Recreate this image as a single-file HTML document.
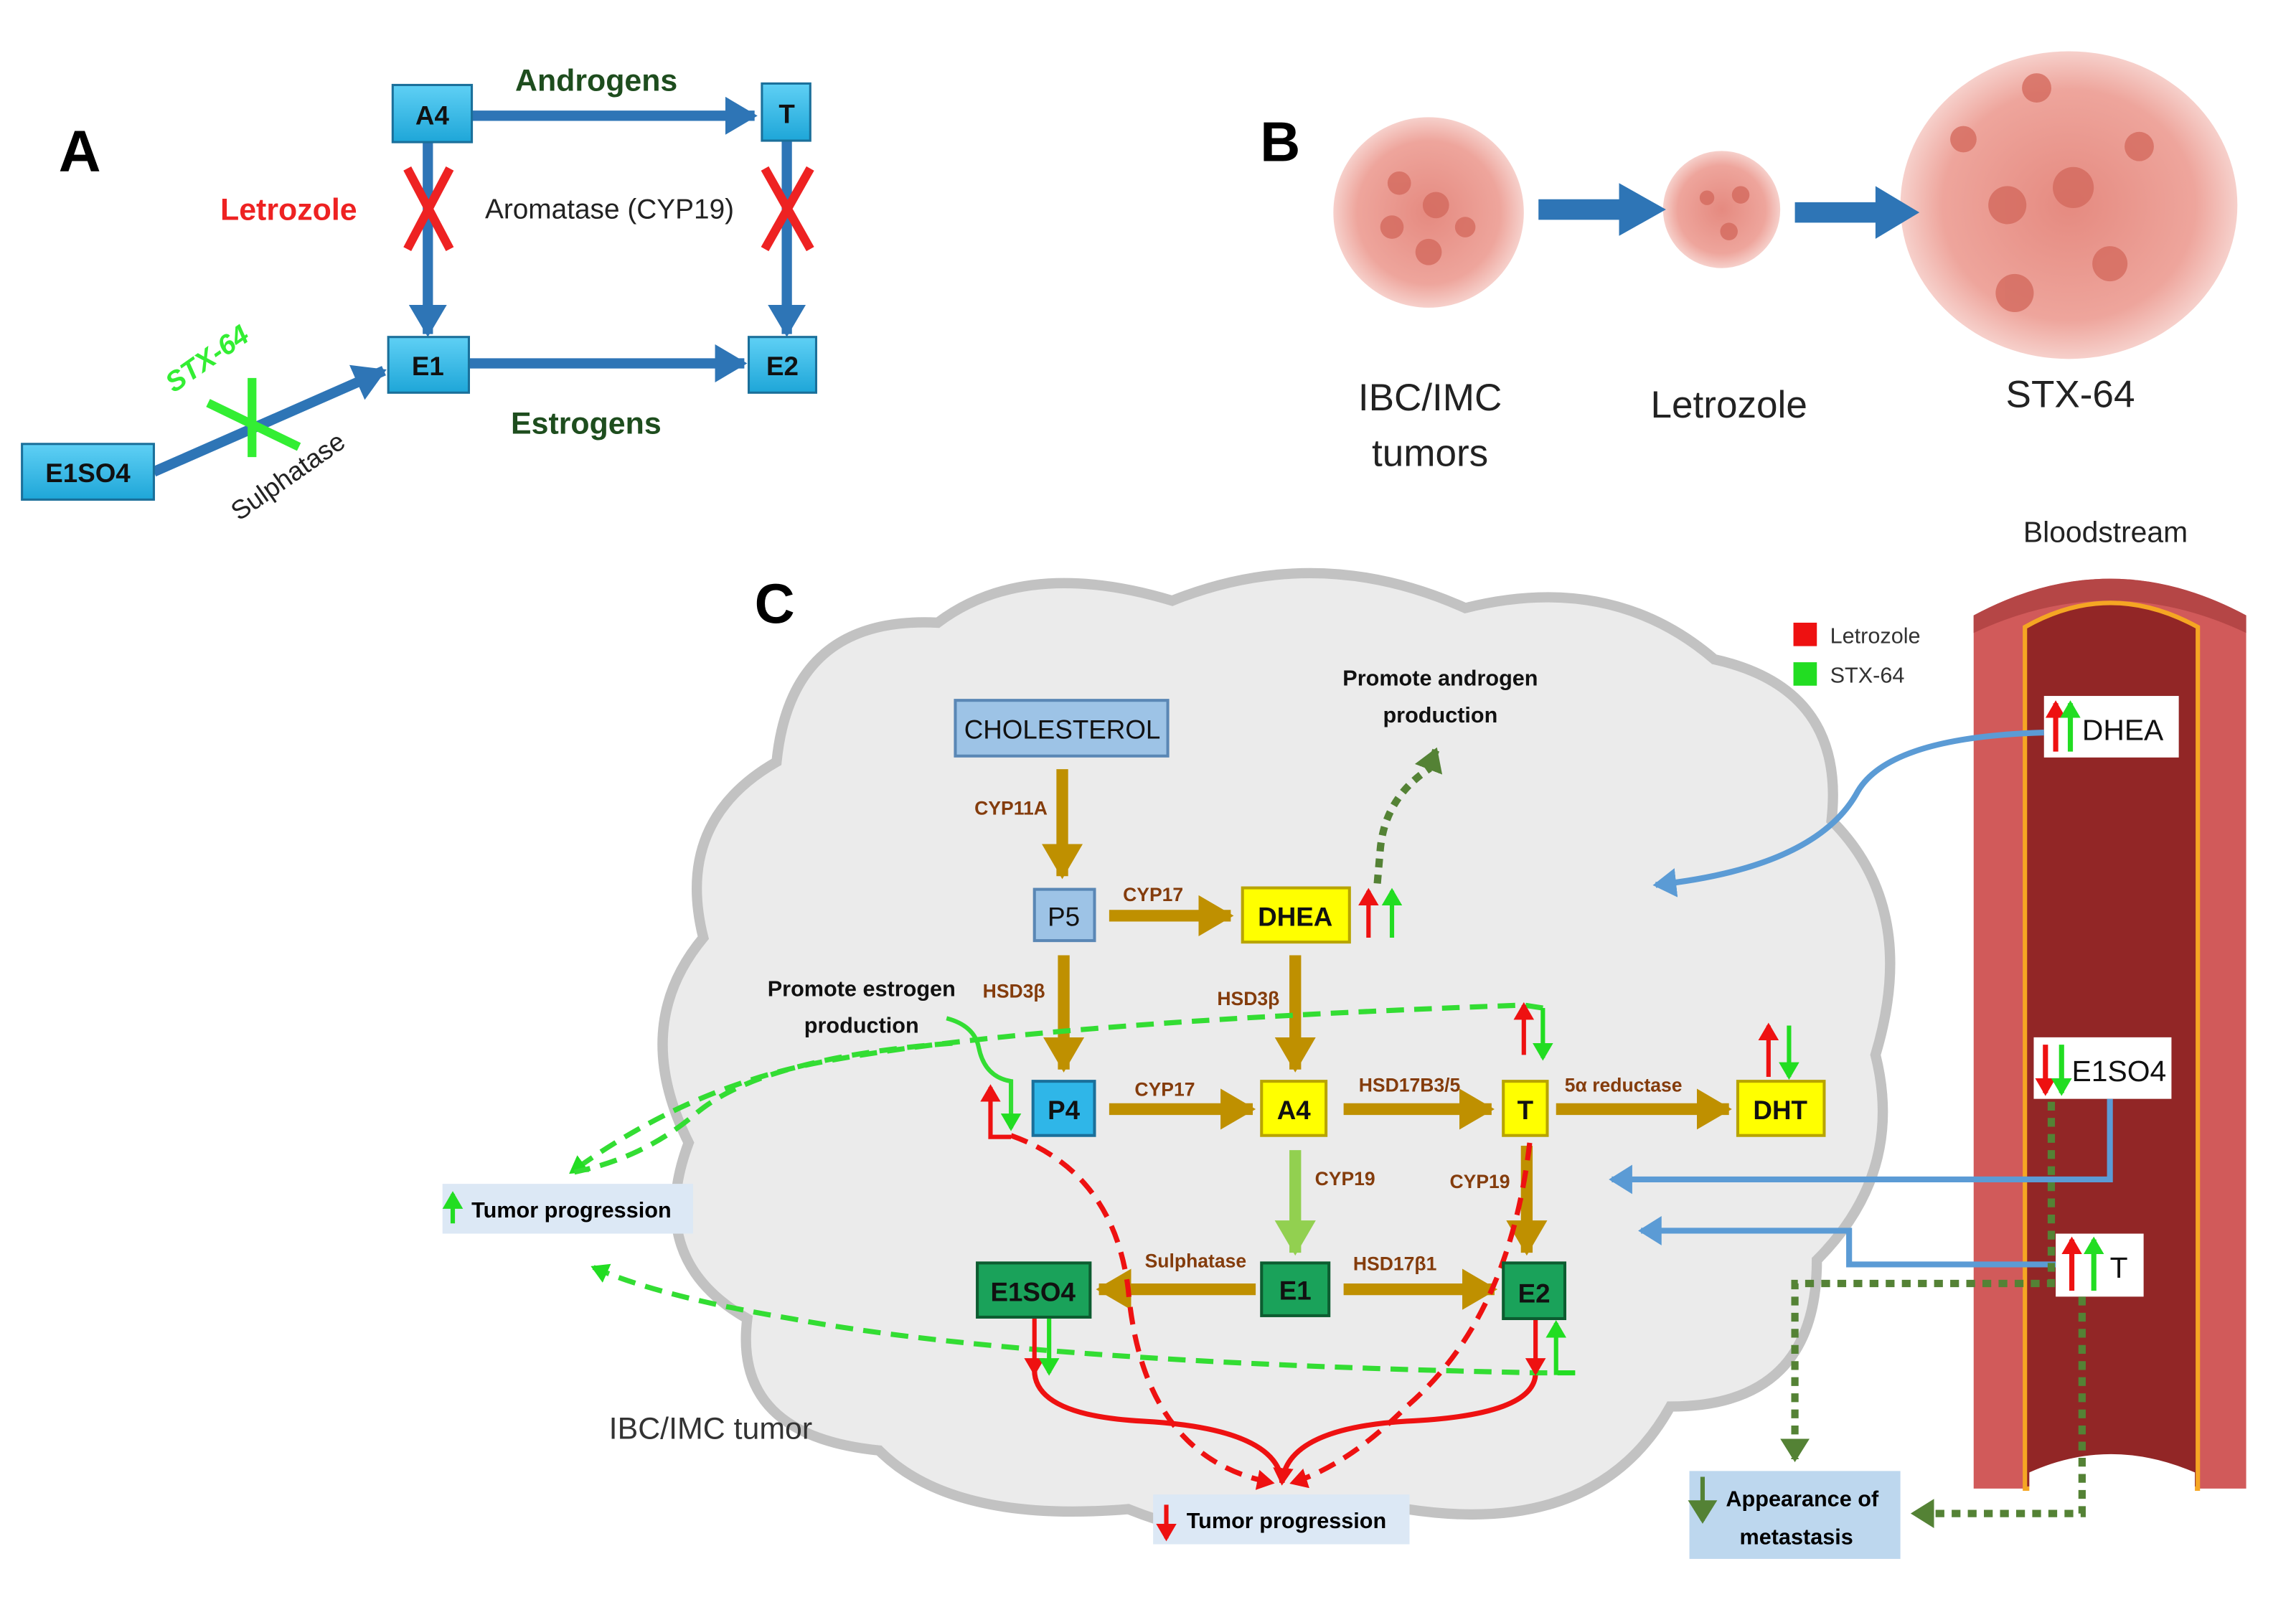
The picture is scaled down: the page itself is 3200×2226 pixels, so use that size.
<!DOCTYPE html>
<html><head><meta charset="utf-8"><style>html,body{margin:0;padding:0;background:#fff}svg{display:block}text{font-family:"Liberation Sans",sans-serif}</style></head><body>
<svg width="3200" height="2226" viewBox="0 0 1567 1090" preserveAspectRatio="none" xmlns="http://www.w3.org/2000/svg">
<defs>
<marker id="mb" markerUnits="userSpaceOnUse" markerWidth="26" markerHeight="26" refX="20" refY="13" orient="auto"><path d="M0,0 L22,13 L0,26 Z" fill="#2e75b6"/></marker>
<marker id="mg" markerUnits="userSpaceOnUse" markerWidth="26" markerHeight="28" refX="22" refY="14" orient="auto"><path d="M0,0 L24,14 L0,28 Z" fill="#bf9000"/></marker>
<marker id="mlg" markerUnits="userSpaceOnUse" markerWidth="26" markerHeight="28" refX="22" refY="14" orient="auto"><path d="M0,0 L24,14 L0,28 Z" fill="#92d050"/></marker>
<marker id="mbl" markerUnits="userSpaceOnUse" markerWidth="20" markerHeight="20" refX="14" refY="10" orient="auto"><path d="M0,0 L16,10 L0,20 Z" fill="#5b9bd5"/></marker>
<marker id="mdg" markerUnits="userSpaceOnUse" markerWidth="20" markerHeight="20" refX="14" refY="10" orient="auto"><path d="M0,0 L16,10 L0,20 Z" fill="#548235"/></marker>
<marker id="mgr" markerUnits="userSpaceOnUse" markerWidth="14" markerHeight="14" refX="10" refY="7" orient="auto"><path d="M0,0 L12,7 L0,14 Z" fill="#22dd22"/></marker>
<marker id="mr" markerUnits="userSpaceOnUse" markerWidth="14" markerHeight="14" refX="10" refY="7" orient="auto"><path d="M0,0 L12,7 L0,14 Z" fill="#ee1111"/></marker>
<linearGradient id="gb" x1="0" y1="0" x2="0" y2="1"><stop offset="0" stop-color="#5fd0f5"/><stop offset="1" stop-color="#1ea6d8"/></linearGradient>
<radialGradient id="tum"><stop offset="0" stop-color="#e58a80"/><stop offset="0.75" stop-color="#eea59c"/><stop offset="1" stop-color="#f6d0cb"/></radialGradient>
</defs>

<!-- PANEL A -->
<text x="40" y="117" font-size="40" font-weight="bold">A</text>
<g stroke="#2e75b6" stroke-width="7" fill="none">
<line x1="322" y1="79" x2="515" y2="79" marker-end="url(#mb)"/>
<line x1="292" y1="97" x2="292" y2="228" marker-end="url(#mb)"/>
<line x1="537" y1="96" x2="537" y2="228" marker-end="url(#mb)"/>
<line x1="320" y1="248" x2="508" y2="248" marker-end="url(#mb)"/>
<line x1="105" y1="322" x2="262" y2="253" marker-end="url(#mb)"/>
</g>
<g stroke="#1a6f9a" stroke-width="1.5" fill="url(#gb)">
<rect x="268" y="58" width="54" height="39"/><rect x="520" y="57" width="33" height="39"/>
<rect x="265" y="230" width="55" height="38"/><rect x="511" y="230" width="46" height="38"/>
<rect x="15" y="303" width="90" height="38"/>
</g>
<g font-size="18" font-weight="bold" text-anchor="middle" fill="#111">
<text x="295" y="85">A4</text><text x="537" y="84">T</text><text x="292" y="256">E1</text><text x="534" y="256">E2</text><text x="60" y="329">E1SO4</text>
</g>
<g stroke="#ee2222" stroke-width="6"><line x1="278" y1="115" x2="307" y2="170"/><line x1="307" y1="115" x2="278" y2="170"/><line x1="522" y1="115" x2="553" y2="170"/><line x1="553" y1="115" x2="522" y2="170"/></g>
<g stroke="#33ee33" stroke-width="6"><line x1="172" y1="258" x2="172" y2="312"/><line x1="142" y1="275" x2="204" y2="305"/></g>
<text x="407" y="62" font-size="21" font-weight="bold" fill="#1e4d1e" text-anchor="middle">Androgens</text>
<text x="400" y="296" font-size="21" font-weight="bold" fill="#1e4d1e" text-anchor="middle">Estrogens</text>
<text x="197" y="150" font-size="21" font-weight="bold" fill="#ee2222" text-anchor="middle">Letrozole</text>
<text x="416" y="149" font-size="19" fill="#222" text-anchor="middle">Aromatase (CYP19)</text>
<text x="145" y="250" font-size="19" font-weight="bold" font-style="italic" fill="#33ee33" text-anchor="middle" transform="rotate(-35 145 250)">STX-64</text>
<text x="200" y="330" font-size="18" fill="#222" text-anchor="middle" transform="rotate(-35 200 330)">Sulphatase</text>

<!-- PANEL B -->
<text x="860" y="110" font-size="38" font-weight="bold">B</text>
<g fill="url(#tum)">
<ellipse cx="975" cy="145" rx="65" ry="65"/>
<ellipse cx="1175" cy="143" rx="40" ry="40"/>
<ellipse cx="1412" cy="140" rx="115" ry="105"/>
</g>
<g fill="#d46a5e" opacity="0.8">
<circle cx="955" cy="125" r="8"/><circle cx="980" cy="140" r="9"/><circle cx="1000" cy="155" r="7"/><circle cx="950" cy="155" r="8"/><circle cx="975" cy="172" r="9"/>
<circle cx="1165" cy="135" r="5"/><circle cx="1188" cy="133" r="6"/><circle cx="1180" cy="158" r="6"/>
<circle cx="1390" cy="60" r="10"/><circle cx="1370" cy="140" r="13"/><circle cx="1415" cy="128" r="14"/><circle cx="1375" cy="200" r="13"/><circle cx="1440" cy="180" r="12"/><circle cx="1460" cy="100" r="10"/><circle cx="1340" cy="95" r="9"/>
</g>
<g stroke="#2e75b6" stroke-width="14"><line x1="1050" y1="143" x2="1110" y2="143"/><line x1="1225" y1="145" x2="1285" y2="145"/></g>
<g fill="#2e75b6"><path d="M1105,125 L1137,143 L1105,161Z"/><path d="M1280,127 L1310,145 L1280,163Z"/></g>
<g font-size="26" fill="#222" text-anchor="middle">
<text x="976" y="280">IBC/IMC</text><text x="976" y="318">tumors</text><text x="1180" y="285">Letrozole</text><text x="1413" y="278">STX-64</text>
</g>

<!-- PANEL C cloud -->
<path d="M530,520 Q540,420 640,425 Q700,380 800,410 Q900,370 1000,415 Q1100,390 1170,450 Q1260,470 1250,560 Q1310,620 1280,720 Q1300,800 1240,860 Q1240,960 1140,960 Q1090,1050 960,1030 Q870,1070 770,1030 Q650,1040 600,990 Q500,980 510,900 Q440,860 470,780 Q430,700 480,640 Q460,560 530,520 Z" fill="#ebebeb" stroke="#c2c2c2" stroke-width="7"/>
<text x="515" y="425" font-size="38" font-weight="bold">C</text>
<text x="485" y="982" font-size="21" fill="#333" text-anchor="middle">IBC/IMC tumor</text>

<!-- gold arrows -->
<g stroke="#bf9000" stroke-width="8" fill="none">
<line x1="725" y1="525" x2="725" y2="598" marker-end="url(#mg)"/>
<line x1="757" y1="625" x2="840" y2="625" marker-end="url(#mg)"/>
<line x1="726" y1="652" x2="726" y2="730" marker-end="url(#mg)"/>
<line x1="884" y1="652" x2="884" y2="730" marker-end="url(#mg)"/>
<line x1="757" y1="757" x2="855" y2="757" marker-end="url(#mg)"/>
<line x1="917" y1="757" x2="1018" y2="757" marker-end="url(#mg)"/>
<line x1="1062" y1="757" x2="1180" y2="757" marker-end="url(#mg)"/>
<line x1="1042" y1="782" x2="1042" y2="855" marker-end="url(#mg)"/>
<line x1="857" y1="880" x2="750" y2="880" marker-end="url(#mg)"/>
<line x1="917" y1="880" x2="1020" y2="880" marker-end="url(#mg)"/>
</g>
<line x1="884" y1="785" x2="884" y2="855" stroke="#92d050" stroke-width="8" marker-end="url(#mlg)"/>
<g font-size="13" font-weight="bold" fill="#843c0c" text-anchor="middle">
<text x="690" y="556">CYP11A</text><text x="787" y="615">CYP17</text><text x="692" y="681">HSD3β</text><text x="852" y="686">HSD3β</text>
<text x="795" y="748">CYP17</text><text x="962" y="745">HSD17B3/5</text><text x="1108" y="745">5α reductase</text>
<text x="918" y="809">CYP19</text><text x="1010" y="811">CYP19</text><text x="816" y="865">Sulphatase</text><text x="952" y="867">HSD17β1</text>
</g>

<!-- dashed / red paths -->
<g fill="none" stroke="#ee1111" stroke-width="3.5" stroke-dasharray="12,7">
<path d="M690,775 Q760,800 770,880 Q780,995 868,1012" marker-end="url(#mr)"/>
<path d="M1044,780 Q1030,900 960,960 Q920,1000 882,1012" marker-end="url(#mr)"/>
</g>
<g fill="none" stroke="#ee1111" stroke-width="3.5">
<path d="M706,935 Q706,966 780,970 Q872,975 875,1012"/>
<path d="M1048,937 Q1048,966 960,970 Q878,975 875,1012" marker-end="url(#mr)"/>
</g>
<g fill="none" stroke="#33dd33" stroke-width="3.5" stroke-dasharray="12,7">
<path d="M1053,688 L1040,686 Q700,698 560,725 Q470,742 390,800" marker-end="url(#mgr)"/>
<path d="M650,712 Q520,722 475,760 Q440,790 392,800"/>
<path d="M1075,937 L1050,937 Q700,930 540,900 Q450,885 405,865" marker-end="url(#mgr)"/>
</g>
<path d="M646,695 Q665,700 668,715 Q672,735 690,738 L690,770" fill="none" stroke="#33dd33" stroke-width="3" marker-end="url(#mgr)"/>
<path d="M940,603 L942,580 Q945,545 975,525 L980,512" fill="none" stroke="#548235" stroke-width="5" stroke-dasharray="6,5" marker-end="url(#mdg)"/>

<!-- small arrows -->
<g stroke-width="3" fill="none">
<line x1="934" y1="640" x2="934" y2="608" stroke="#ee1111" marker-end="url(#mr)"/>
<line x1="950" y1="640" x2="950" y2="608" stroke="#22dd22" marker-end="url(#mgr)"/>
<line x1="1207" y1="735" x2="1207" y2="700" stroke="#ee1111" marker-end="url(#mr)"/>
<line x1="1221" y1="700" x2="1221" y2="735" stroke="#22dd22" marker-end="url(#mgr)"/>
<line x1="1040" y1="720" x2="1040" y2="686" stroke="#ee1111" marker-end="url(#mr)"/>
<line x1="1053" y1="688" x2="1053" y2="722" stroke="#22dd22" marker-end="url(#mgr)"/>
<path d="M690,776 L676,776 L676,742" stroke="#ee1111" marker-end="url(#mr)"/>
<line x1="706" y1="900" x2="706" y2="937" stroke="#ee1111" marker-end="url(#mr)"/>
<line x1="716" y1="900" x2="716" y2="937" stroke="#22dd22" marker-end="url(#mgr)"/>
<line x1="1048" y1="900" x2="1048" y2="937" stroke="#ee1111" marker-end="url(#mr)"/>
<path d="M1075,937 L1062,937 L1062,903" stroke="#22dd22" marker-end="url(#mgr)"/>
</g>

<!-- boxes C -->
<rect x="652" y="478" width="145" height="38" fill="#9dc3e6" stroke="#5a87b5" stroke-width="2"/>
<rect x="706" y="607" width="41" height="35" fill="#9dc3e6" stroke="#5a87b5" stroke-width="2"/>
<rect x="705" y="738" width="42" height="37" fill="#2fb6e8" stroke="#1a6f9a" stroke-width="2"/>
<g fill="#ffff00" stroke="#b8a400" stroke-width="2">
<rect x="848" y="606" width="73" height="37"/><rect x="861" y="738" width="44" height="37"/><rect x="1026" y="738" width="30" height="37"/><rect x="1186" y="738" width="59" height="37"/>
</g>
<g fill="#1aa25a" stroke="#0c5c30" stroke-width="2">
<rect x="667" y="862" width="77" height="37"/><rect x="861" y="862" width="46" height="36"/><rect x="1026" y="862" width="42" height="38"/>
</g>
<g font-size="18" text-anchor="middle" fill="#111">
<text x="725" y="504">CHOLESTEROL</text><text x="726" y="632">P5</text>
</g>
<g font-size="18" font-weight="bold" text-anchor="middle" fill="#111">
<text x="726" y="764">P4</text><text x="884" y="632">DHEA</text><text x="883" y="764">A4</text><text x="1041" y="764">T</text><text x="1215" y="764">DHT</text>
<text x="705" y="888">E1SO4</text><text x="884" y="887">E1</text><text x="1047" y="889">E2</text>
</g>
<g font-size="15" font-weight="bold" text-anchor="middle" fill="#111">
<text x="588" y="680">Promote estrogen</text><text x="588" y="705">production</text>
<text x="983" y="468">Promote androgen</text><text x="983" y="493">production</text>
</g>
<rect x="302" y="808" width="171" height="34" fill="#dce8f5"/>
<line x1="309" y1="835" x2="309" y2="815" stroke="#22dd22" stroke-width="3" marker-end="url(#mgr)"/>
<text x="390" y="831" font-size="15" font-weight="bold" text-anchor="middle">Tumor progression</text>
<rect x="787" y="1020" width="175" height="34" fill="#dce8f5"/>
<line x1="796" y1="1027" x2="796" y2="1050" stroke="#ee1111" stroke-width="3" marker-end="url(#mr)"/>
<text x="878" y="1043" font-size="15" font-weight="bold" text-anchor="middle">Tumor progression</text>

<!-- bloodstream -->
<text x="1437" y="370" font-size="20" fill="#222" text-anchor="middle">Bloodstream</text>
<rect x="1224" y="425" width="16" height="16" fill="#ee1111"/><text x="1249" y="439" font-size="15" fill="#333">Letrozole</text>
<rect x="1224" y="452" width="16" height="16" fill="#22dd22"/><text x="1249" y="466" font-size="15" fill="#333">STX-64</text>
<path d="M1347,420 Q1440,370 1533,420 L1533,1016 L1347,1016 Z" fill="#d15a5a"/>
<path d="M1347,420 Q1440,370 1533,420 L1533,432 Q1440,388 1347,432 Z" fill="#b54646"/>
<path d="M1382,428 Q1440,395 1500,428 L1500,1016 L1382,1016 Z" fill="#922626" stroke="#f5a623" stroke-width="3"/>
<path d="M1385,1018 L1385,1005 Q1440,980 1498,1005 L1498,1018 Z" fill="#fff"/>
<g fill="#fff"><rect x="1395" y="475" width="92" height="42"/><rect x="1388" y="708" width="94" height="42"/><rect x="1403" y="842" width="60" height="43"/></g>
<g font-size="20" fill="#111"><text x="1421" y="505">DHEA</text><text x="1414" y="738">E1SO4</text><text x="1440" y="872">T</text></g>
<g stroke-width="3.5" fill="none">
<line x1="1403" y1="513" x2="1403" y2="480" stroke="#ee1111" marker-end="url(#mr)"/>
<line x1="1413" y1="513" x2="1413" y2="480" stroke="#22dd22" marker-end="url(#mgr)"/>
<line x1="1396" y1="713" x2="1396" y2="746" stroke="#ee1111" marker-end="url(#mr)"/>
<line x1="1407" y1="713" x2="1407" y2="746" stroke="#22dd22" marker-end="url(#mgr)"/>
<line x1="1414" y1="881" x2="1414" y2="846" stroke="#ee1111" marker-end="url(#mr)"/>
<line x1="1429" y1="881" x2="1429" y2="846" stroke="#22dd22" marker-end="url(#mgr)"/>
</g>
<g stroke="#5b9bd5" stroke-width="4" fill="none">
<path d="M1395,500 Q1290,503 1268,540 Q1240,592 1130,604" marker-end="url(#mbl)"/>
<path d="M1440,750 L1440,805 L1100,805" marker-end="url(#mbl)"/>
<path d="M1403,863 L1262,863 L1262,840 L1120,840" marker-end="url(#mbl)"/>
</g>
<g stroke="#548235" stroke-width="5" fill="none" stroke-dasharray="6,5">
<path d="M1400,752 L1400,876 L1225,876 L1225,996" marker-end="url(#mdg)"/>
<path d="M1421,885 L1421,1033 L1306,1033" marker-end="url(#mdg)"/>
</g>
<rect x="1153" y="1004" width="144" height="60" fill="#bdd7ee"/>
<line x1="1162" y1="1008" x2="1162" y2="1038" stroke="#548235" stroke-width="3" marker-end="url(#mdg)"/>
<g font-size="15" font-weight="bold" text-anchor="middle"><text x="1230" y="1028">Appearance of</text><text x="1226" y="1054">metastasis</text></g>
</svg>
</body></html>
